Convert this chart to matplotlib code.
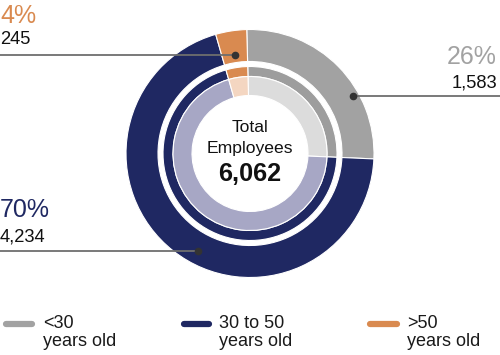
import matplotlib
matplotlib.use("Agg")
import matplotlib.pyplot as plt
import numpy as np

plt.rcParams['font.family'] = ['Liberation Sans', 'DejaVu Sans']

categories = ["<30\nyears old", "30 to 50\nyears old", ">50\nyears old"]
counts = [1583, 4234, 245]
percents = ["26%", "70%", "4%"]
count_labels = ["1,583", "4,234", "245"]
total_label = "6,062"

main_colors = ["#a2a2a2", "#1f2862", "#d98a50"]
inner_colors = ["#9d9d9d", "#1f2862", "#d98a50"]
pale_colors = ["#dcdcdc", "#a7a7c5", "#f4d6c1"]

W, H = 500, 355
fig = plt.figure(figsize=(5, 3.55), dpi=100)
ax = fig.add_axes([0, 0, 1, 1])

def fy(y):
    return H - y

cx, cy = 250, fy(153.5)
start = 91.5
R_out, R_out_in = 124, 92
R_ring, R_ring_in = 87, 77
R_pale_in = 58

common = dict(startangle=start, counterclock=False, center=(cx, cy))
ax.pie(counts, colors=main_colors, radius=R_out,
       wedgeprops=dict(width=R_out - R_out_in, edgecolor="white", linewidth=0.8), **common)
ax.pie(counts, colors=inner_colors, radius=R_ring,
       wedgeprops=dict(width=R_ring - R_ring_in, edgecolor="white", linewidth=0.8), **common)
ax.pie(counts, colors=pale_colors, radius=R_ring_in,
       wedgeprops=dict(width=R_ring_in - R_pale_in, edgecolor="white", linewidth=0.8), **common)

ax.set_xlim(0, W)
ax.set_ylim(0, H)
ax.set_aspect("equal")
ax.axis("off")

# center text
ax.text(cx, fy(128), "Total", ha="center", va="center", fontsize=12.6, color="#111111")
ax.text(cx, fy(149), "Employees", ha="center", va="center", fontsize=12.6, color="#111111")
ax.text(cx, fy(174), total_label, ha="center", va="center", fontsize=18.2,
        fontweight="bold", color="#111111")

# callouts
line_color = "#6e6e6e"
dot_color = "#333333"
callouts = {
    0: dict(ang=29.4, r=117.8, side="right", tx=497, pct_y=63.5, cnt_y=87),
    1: dict(ang=242.0, r=110.0, side="left", tx=0, pct_y=217, cnt_y=241),
    2: dict(ang=98.7, r=99.6, side="left", tx=0, pct_y=23, cnt_y=44),
}
for i, c in callouts.items():
    a = np.deg2rad(c["ang"])
    dx = cx + c["r"] * np.cos(a)
    dy = cy + c["r"] * np.sin(a)
    xend = W if c["side"] == "right" else 0
    ax.plot([dx, xend], [dy, dy], color=line_color, lw=1.3, solid_capstyle="butt", zorder=5)
    ax.plot([dx], [dy], "o", color=dot_color, ms=4.5, zorder=6)
    ha = "right" if c["side"] == "right" else "left"
    ax.text(c["tx"], fy(c["pct_y"]), percents[i], ha=ha, va="baseline",
            fontsize=18, color=main_colors[i])
    ax.text(c["tx"], fy(c["cnt_y"]), count_labels[i], ha=ha, va="baseline",
            fontsize=13.2, color="#111111")

# legend
leg_x = [(3, 34, 43), (181, 211, 219), (367, 399, 407)]
for i, (x0, x1, tx) in enumerate(leg_x):
    ax.plot([x0 + 2.5, x1 - 2.5], [fy(323.5), fy(323.5)], color=main_colors[i], lw=4.5,
            solid_capstyle="round")
    l1, l2 = categories[i].split("\n")
    ax.text(tx, fy(328.5), l1, ha="left", va="baseline", fontsize=13, color="#1a1a1a")
    ax.text(tx, fy(346), l2, ha="left", va="baseline", fontsize=13, color="#1a1a1a")

fig.savefig("out.png", dpi=100)
